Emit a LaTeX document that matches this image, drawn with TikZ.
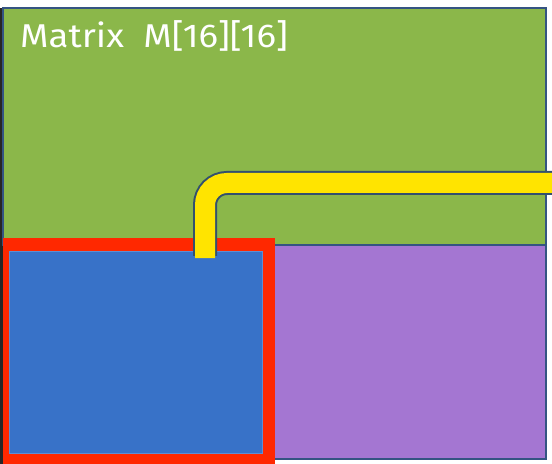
\documentclass[tikz,border=0pt]{standalone}
\usepackage{fontspec}
\setmainfont{Fira Sans}
\definecolor{mgreen}{RGB}{139,183,74}
\definecolor{mpurple}{RGB}{164,118,210}
\definecolor{mblue}{RGB}{56,114,200}
\definecolor{mred}{RGB}{255,40,0}
\definecolor{myellow}{RGB}{255,228,0}
\definecolor{medge}{RGB}{52,84,130}
\definecolor{mpipe}{RGB}{50,80,110}
\tikzset{
  cell/.style={draw=medge, line width=1.5bp},
}
\begin{document}
\begin{tikzpicture}[x=1bp,y=-1bp]
\useasboundingbox (0,0) rectangle (552,464);
\fill[white] (0,0) rectangle (552,464);
\fill[black!85] (0,8) rectangle (3,464);
\filldraw[cell, fill=mgreen] (3,8) rectangle (546,245);
\filldraw[cell, fill=mpurple] (272,245) rectangle (546,459);
\fill[mred] (3,238) rectangle (275,464);
\filldraw[fill=mblue, draw=mblue!80!white, line width=1bp] (9,252) rectangle (262,453);
\coordinate (pa) at (205,256);
\coordinate (pb) at (205,183);
\coordinate (pc) at (553,183);
\draw[mpipe, line width=24bp, rounded corners=22bp] (pa) -- (pb) -- (pc);
\draw[myellow, line width=20bp, rounded corners=22bp] ([yshift=-2bp]pa) -- (pb) -- (pc);
\node[anchor=base west, inner sep=0pt, text=white, font=\fontsize{33bp}{36bp}\selectfont] (title) at (20,48) {\scalebox{1.11}[1]{Matrix\ \ M[16][16]}};
\end{tikzpicture}
\end{document}
